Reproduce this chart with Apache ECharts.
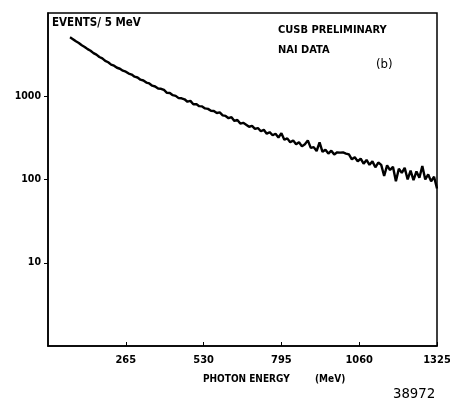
<!DOCTYPE html>
<html>
<head>
<meta charset="utf-8">
<script src="https://cdn.jsdelivr.net/npm/echarts@6/dist/echarts.min.js"></script>
<style>html,body{margin:0;padding:0;background:#fff}#c{width:450px;height:400px}</style>
</head>
<body>
<div id="c"></div>
<script>
// Photon energy bin centres (MeV)
var energies = [75,85,95,105,115,125,135,145,155,165,175,185,195,205,215,225,235,245,255,265,275,285,295,305,315,325,335,345,355,365,375,385,395,405,415,425,435,445,455,465,475,485,495,505,515,525,535,545,555,565,575,585,595,605,615,625,635,645,655,665,675,685,695,705,715,725,735,745,755,765,775,785,795,805,815,825,835,845,855,865,875,885,895,905,915,925,935,945,955,965,975,985,995,1005,1015,1025,1035,1045,1055,1065,1075,1085,1095,1105,1115,1125,1135,1145,1155,1165,1175,1185,1195,1205,1215,1225,1235,1245,1255,1265,1275,1285,1295,1305,1315,1325];
// Events per 5 MeV
var events = [5100,4850,4570,4360,4100,3910,3680,3520,3300,3160,2960,2850,2660,2560,2400,2330,2200,2140,2030,1975,1870,1820,1720,1680,1580,1545,1460,1425,1340,1310,1240,1230,1190,1100,1095,1030,1010,950,945,920,860,880,800,805,760,755,715,705,670,665,630,640,590,580,545,560,505,520,470,480,455,430,440,405,415,380,395,355,370,340,355,320,360,300,312,280,295,265,280,250,265,295,240,245,220,280,215,228,205,222,200,212,210,212,205,200,175,185,165,178,155,172,150,165,140,160,150,110,148,130,142,95,135,120,138,100,128,98,125,105,145,100,115,95,108,78];
var xTicks = [265,530,795,1060,1325];
var yTicks = [10,100,1000];

var data = energies.map(function(e,i){return [e, events[i]];});
var chart = echarts.init(document.getElementById('c'), null, {renderer:'canvas'});
var F = '"DejaVu Sans Condensed", "DejaVu Sans", sans-serif';
chart.setOption({
  animation:false,
  backgroundColor:'#fff',
  grid:{left:48,right:13,top:13,bottom:54,outerBoundsMode:'none',containLabel:false,show:true,borderColor:'#000',borderWidth:1.5,backgroundColor:'transparent'},
  xAxis:{type:'value',min:0,max:1325,interval:265,
    axisLine:{lineStyle:{color:'#000',width:1.5}},
    axisTick:{inside:true,length:4,lineStyle:{color:'#000'},customValues:xTicks},
    axisLabel:{color:'#000',fontFamily:F,fontWeight:'bold',fontSize:11,margin:9,customValues:xTicks,
      formatter:function(v){return String(v);}},
    splitLine:{show:false}},
  yAxis:{type:'log',logBase:10,min:1,max:10000,
    axisLine:{show:true,lineStyle:{color:'#000',width:1.5}},
    axisTick:{show:true,length:4,lineStyle:{color:'#000'},customValues:yTicks},
    axisLabel:{color:'#000',fontFamily:F,fontWeight:'bold',fontSize:10.5,margin:7,customValues:yTicks,
      formatter:function(v){return String(Math.round(v));}},
    minorTick:{show:false},
    splitLine:{show:false}},
  series:[{type:'line',data:data,showSymbol:false,symbol:'none',
    lineStyle:{color:'#000',width:2.4},z:5}],
  graphic:[
    {type:'text',left:52,top:17,style:{text:'EVENTS/ 5 MeV',font:'bold 11.5px '+F,fill:'#000'}},
    {type:'text',left:278,top:25,style:{text:'CUSB PRELIMINARY',font:'bold 11px '+F,fill:'#000'}},
    {type:'text',left:278,top:45,style:{text:'NAI DATA',font:'bold 11px '+F,fill:'#000'}},
    {type:'text',left:376,top:58,style:{text:'(b)',font:'13px '+F,fill:'#000'}},
    {type:'text',left:203,top:374,style:{text:'PHOTON ENERGY',font:'bold 10px '+F,fill:'#000'}},
    {type:'text',left:315,top:374,style:{text:'(MeV)',font:'bold 10px '+F,fill:'#000'}},
    {type:'text',left:393,top:387,style:{text:'38972',font:'14px "DejaVu Sans Mono", monospace',fill:'#000'}}
  ]
});
</script>
</body>
</html>
